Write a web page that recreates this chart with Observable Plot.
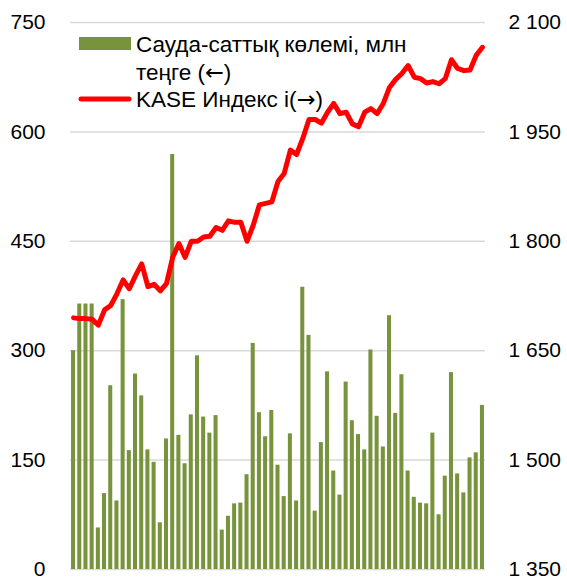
<!DOCTYPE html>
<html>
<head>
<meta charset="utf-8">
<script src="https://cdn.jsdelivr.net/npm/d3@7"></script>
<script src="https://cdn.jsdelivr.net/npm/@observablehq/plot@0.6"></script>
<style>
  html, body { margin: 0; padding: 0; background: #fff; }
  #wrap { position: relative; width: 567px; height: 580px; overflow: hidden; }
  #legend { position: absolute; left: 0; top: 0; }
  svg text { font-family: "Liberation Sans", Arial, sans-serif; }
</style>
</head>
<body>
<div id="wrap"></div>
<script>
// Trading volume, mln tenge (left axis)
const volume = [300, 364, 364, 364, 57, 104, 252, 94, 370, 163,
  268, 238, 164, 147, 64, 179, 569, 184, 145, 212,
  293, 209, 187, 211, 54, 73, 90, 91, 130, 310,
  215, 182, 218, 143, 100, 186, 94, 387, 321, 80,
  174, 271, 135, 102, 257, 204, 185, 164, 301, 210,
  168, 348, 214, 267, 135, 99, 91, 90, 187, 75,
  128, 270, 131, 105, 153, 160, 225];
// KASE index (right axis)
const kase = [1695, 1694, 1694, 1693, 1685, 1706, 1712, 1728, 1747, 1735,
  1753, 1769, 1738, 1741, 1732, 1742, 1778, 1797, 1778, 1800,
  1800, 1806, 1807, 1819, 1815, 1828, 1826, 1826, 1800, 1822,
  1850, 1852, 1854, 1882, 1893, 1925, 1919, 1941, 1967, 1967,
  1962, 1977, 1989, 1975, 1977, 1961, 1957, 1977, 1982, 1975,
  1989, 2011, 2022, 2030, 2041, 2025, 2023, 2017, 2019, 2016,
  2023, 2049, 2037, 2034, 2035, 2055, 2066];
const leftTicks = [0, 150, 300, 450, 600, 750];
const rightTicks = [1350, 1500, 1650, 1800, 1950, 2100];
const legendLabels = [["Сауда-саттық көлемі, млн"], ["теңге (", "←", ")"], ["KASE Индекс і(", "→", ")"]];

const rightMin = rightTicks[0];
const rows = volume.map((v, i) => ({i, v, k: kase[i]}));
const fmt = d => d3.format(",")(d).replace(/,/g, " ");

const chart = Plot.plot({
  width: 567,
  height: 580,
  marginTop: 22,
  marginBottom: 11,
  marginLeft: 70,
  marginRight: 82,
  style: {fontFamily: "'Liberation Sans', Arial, sans-serif", fontSize: "21px", color: "#000", background: "#fff"},
  x: {type: "band", domain: rows.map(d => d.i), paddingInner: 0.35, paddingOuter: 0.17, round: false, axis: null},
  y: {domain: [0, 750], axis: null},
  marks: [
    Plot.gridY(leftTicks, {stroke: "#D9D9D9", strokeOpacity: 1, strokeWidth: 1.5}),
    Plot.barY(rows, {x: "i", y: "v", fill: "#77933C"}),
    Plot.lineY(rows, {x: "i", y: d => d.k - rightMin, stroke: "#FF0000", strokeWidth: 5, strokeLinejoin: "round", strokeLinecap: "round"}),
    Plot.axisY(leftTicks, {anchor: "left", label: null, tickSize: 0, tickPadding: 25, fontSize: 21, tickFormat: d => String(d)}),
    Plot.axisY(rightTicks.map(d => d - rightMin), {anchor: "right", label: null, tickSize: 0, tickPadding: 23, fontSize: 21, tickFormat: d => fmt(d + rightMin)})
  ]
});
const wrap = document.getElementById("wrap");
wrap.appendChild(chart);

// Legend overlay
const ns = "http://www.w3.org/2000/svg";
const lg = document.createElementNS(ns, "svg");
lg.setAttribute("id", "legend");
lg.setAttribute("width", 567);
lg.setAttribute("height", 130);
const rect = document.createElementNS(ns, "rect");
rect.setAttribute("x", 79); rect.setAttribute("y", 37);
rect.setAttribute("width", 52); rect.setAttribute("height", 13);
rect.setAttribute("fill", "#77933C");
lg.appendChild(rect);
const ln = document.createElementNS(ns, "line");
ln.setAttribute("x1", 81); ln.setAttribute("x2", 129);
ln.setAttribute("y1", 99); ln.setAttribute("y2", 99);
ln.setAttribute("stroke", "#FF0000"); ln.setAttribute("stroke-width", 5);
ln.setAttribute("stroke-linecap", "round");
lg.appendChild(ln);
const ys = [52, 80, 107];
legendLabels.forEach((parts, j) => {
  const tx = document.createElementNS(ns, "text");
  tx.setAttribute("x", 136); tx.setAttribute("y", ys[j]);
  tx.setAttribute("font-size", 22.5);
  tx.setAttribute("fill", "#000");
  parts.forEach((p, k) => {
    const ts = document.createElementNS(ns, "tspan");
    if (k === 1) ts.setAttribute("font-family", "'DejaVu Sans', sans-serif");
    ts.textContent = p;
    tx.appendChild(ts);
  });
  lg.appendChild(tx);
});
wrap.appendChild(lg);
</script>
</body>
</html>
